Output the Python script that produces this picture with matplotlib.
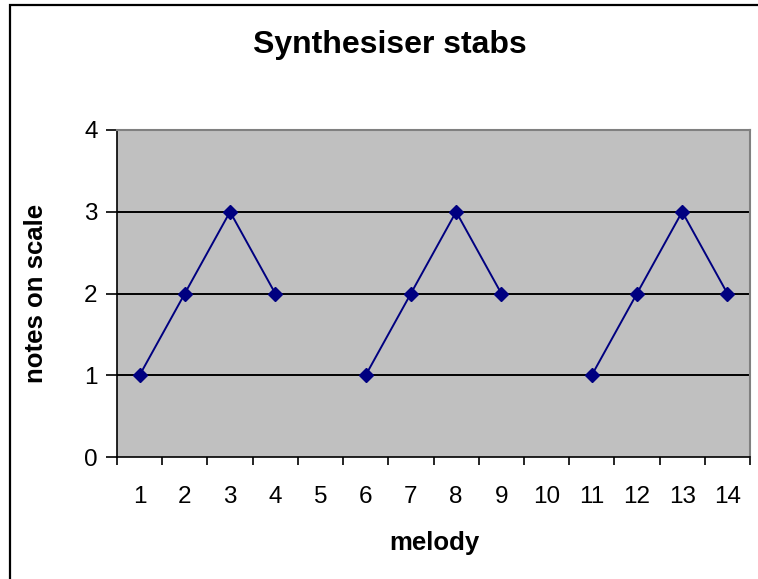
import numpy as np
import matplotlib
matplotlib.use("Agg")
import matplotlib.pyplot as plt
from matplotlib.patches import Rectangle
from matplotlib.ticker import FixedLocator, NullFormatter

categories = list(range(1, 15))
notes = [1, 2, 3, 2, np.nan, 1, 2, 3, 2, np.nan, 1, 2, 3, 2]
y_ticks = [0, 1, 2, 3, 4]

W, H = 758, 579
fig = plt.figure(figsize=(W / 100, H / 100), dpi=100)
font = ['Liberation Sans', 'DejaVu Sans']
plt.rcParams['font.family'] = font

# outer chart border (extends beyond right/bottom edges)
fig.patches.append(Rectangle((10 / W, -0.1), 1.2, 1 - 5 / H + 0.1,
                             transform=fig.transFigure, fill=False,
                             edgecolor='black', linewidth=1.6, zorder=0))

ax = fig.add_axes([117 / W, 1 - 457 / H, (750 - 117) / W, (457 - 130) / H])
ax.set_facecolor('#C0C0C0')

ax.set_xlim(0.5, 14.5)
ax.set_ylim(0, 4)

for y in y_ticks[1:-1]:
    ax.axhline(y, color='black', linewidth=1.4, zorder=1)

ax.plot(categories, notes, color='#000080', linewidth=1.4, marker='D',
        markersize=7.5, markerfacecolor='#000080', markeredgecolor='#000080',
        zorder=3, clip_on=False)

for side in ['top', 'right']:
    ax.spines[side].set_color('#808080')
    ax.spines[side].set_linewidth(1.5)
for side in ['left', 'bottom']:
    ax.spines[side].set_color('black')
    ax.spines[side].set_linewidth(1.2)

ax.set_yticks(y_ticks)
ax.set_yticklabels([str(v) for v in y_ticks])
ax.tick_params(axis='y', length=8, width=1.2, pad=6, labelsize=17.5,
               direction='out', color='black')

boundaries = [c - 0.5 for c in categories] + [categories[-1] + 0.5]
ax.xaxis.set_major_locator(FixedLocator(boundaries))
ax.xaxis.set_major_formatter(NullFormatter())
ax.xaxis.set_minor_locator(FixedLocator(categories))
ax.set_xticklabels([str(c) for c in categories], minor=True)
ax.tick_params(axis='x', which='major', length=6, width=1.2, direction='out')
ax.tick_params(axis='x', which='minor', length=0, pad=21, labelsize=17.5)

fig.text(390 / W, 1 - 45 / H, 'Synthesiser stabs', ha='center', va='center',
         fontsize=23, fontweight='bold')
fig.text(434 / W, 1 - 543 / H, 'melody', ha='center', va='center',
         fontsize=18.5, fontweight='bold')
fig.text(36 / W, 1 - 293 / H, 'notes on scale', ha='center', va='center',
         rotation=90, fontsize=18.5, fontweight='bold')

fig.savefig('out.png', dpi=100)
